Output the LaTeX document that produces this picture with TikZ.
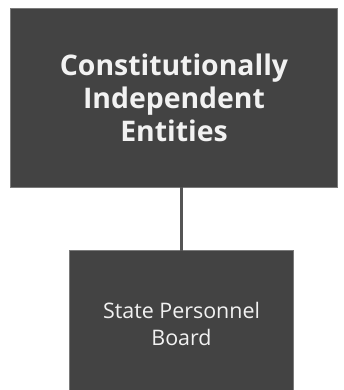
\documentclass[tikz,border=0pt]{standalone}
\usepackage{fontspec}
\setmainfont{Open Sans}
\definecolor{boxfill}{HTML}{434343}
\definecolor{boxline}{HTML}{7A7A7A}
\definecolor{conn}{HTML}{555555}
\begin{document}
\begin{tikzpicture}[x=1bp,y=1bp,
  box/.style={draw=boxline,line width=1bp,fill=boxfill,text=white!95!black,align=center,inner sep=0pt,outer sep=0pt},
  link/.style={draw=conn,line width=3bp}]
\clip (0,0) rectangle (344,390);
\fill[white] (0,0) rectangle (344,390);
\node[box,minimum width=327bp,minimum height=178bp,font=\fontsize{28.5}{33}\selectfont\bfseries] (top) at (174,292)
  {Constitutionally\\Independent\\Entities};
\node[box,minimum width=224bp,minimum height=146bp,font=\fontsize{21.5}{28}\selectfont] (spb) at (181.5,66)
  {State Personnel\\Board};
\draw[link] (spb.north) -- (spb.north |- top.south);
\end{tikzpicture}
\end{document}
